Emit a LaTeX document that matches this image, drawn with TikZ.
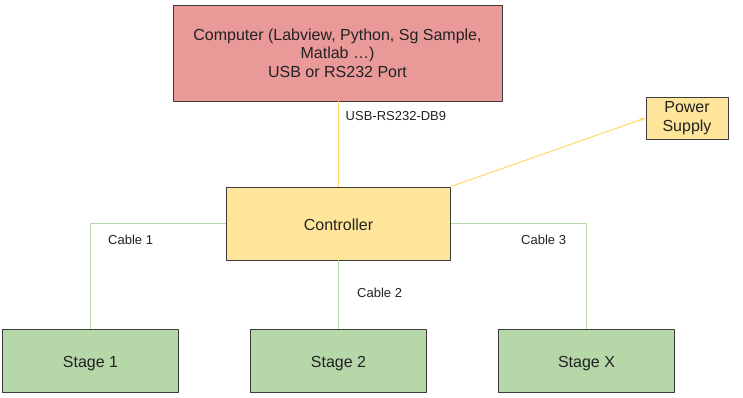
\documentclass[tikz,border=0pt]{standalone}
\usepackage{fontspec}
\setmainfont{Liberation Sans}
\usetikzlibrary{arrows.meta}
\definecolor{pcred}{HTML}{EA9999}
\definecolor{ctrlyel}{HTML}{FFE599}
\definecolor{wireyel}{HTML}{FFD966}
\definecolor{stgreen}{HTML}{B6D7A8}
\definecolor{edgegray}{HTML}{3C3C3C}
\definecolor{txtgray}{HTML}{222222}
\begin{document}
\begin{tikzpicture}[x=1pt, y=-1pt, line join=round, >=Stealth,
	box/.style={draw=edgegray, line width=0.9pt, align=center, text=txtgray, inner sep=0pt,
		font=\fontsize{16}{18.5}\selectfont},
	onebox/.style={box, text height=14pt, text depth=0pt},
	wire/.style={line width=1pt},
	cablelbl/.style={anchor=west, text=txtgray, inner sep=0pt, font=\fontsize{13}{15}\selectfont}]
	\useasboundingbox (0,0) rectangle (743,397);
	\def\stw{176} % width of a stage
	\def\sth{63} % height of a stage
	\def\sty{360.5} % centre of the stages
	% boxes
	\node[box, fill=pcred, minimum width=329pt, minimum height=96pt] (pc) at (337.5,53)
		{Computer (Labview, Python, Sg Sample,\\Matlab \dots)\\USB or RS232 Port};
	\node[onebox, fill=ctrlyel, minimum width=224pt, minimum height=73pt] (ctrl) at (338.5,223.5) {Controller};
	\node[box, fill=ctrlyel, minimum width=82pt, minimum height=42pt] (psu) at (687,118) {Power\\Supply};
	\foreach \nom/\x/\txt in {s1/90.5/Stage 1, s2/338.5/Stage 2, sx/586.5/Stage X}
		\node[onebox, fill=stgreen, minimum width=\stw pt, minimum height=\sth pt] (\nom) at (\x,\sty) {\txt};
	% connectors
	\draw[wire, wireyel] (pc.south -| ctrl.north) -- (ctrl.north);
	\draw[wire, wireyel, -{Stealth[length=6pt,width=5pt]}] (ctrl.north east) -- (psu.west);
	\draw[wire, stgreen] (ctrl.west) -| (s1.north);
	\draw[wire, stgreen] (ctrl.south) -- (s2.north);
	\draw[wire, stgreen] (ctrl.east) -| (sx.north);
	% labels
	\node[cablelbl] (lusb) at (345.5,116) {USB-RS232-DB9};
	\node[cablelbl] (lc1) at (108,240) {Cable 1};
	\node[cablelbl] (lc2) at (357,293) {Cable 2};
	\node[cablelbl] (lc3) at (521,240) {Cable 3};
\end{tikzpicture}
\end{document}
